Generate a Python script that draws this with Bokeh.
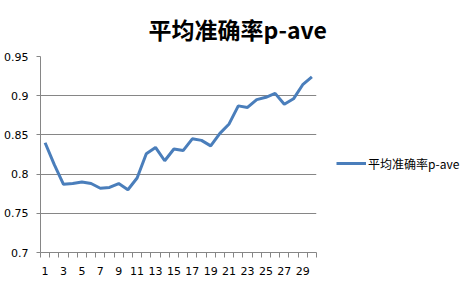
from bokeh.plotting import figure
from bokeh.models import (FixedTicker, CustomJSTickFormatter, Legend, LegendItem, Title, Range1d)
from bokeh.embed import file_html
from bokeh.resources import INLINE

title_text = "平均准确率p-ave"
series_name = "平均准确率p-ave"
categories = list(range(1, 31))
p_ave = [0.840, 0.812, 0.787, 0.788, 0.790, 0.788, 0.782, 0.783, 0.788, 0.780,
         0.795, 0.826, 0.834, 0.817, 0.832, 0.830, 0.845, 0.843, 0.836, 0.852,
         0.864, 0.887, 0.885, 0.895, 0.898, 0.903, 0.889, 0.896, 0.914, 0.924]
y_ticks = [0.7, 0.75, 0.8, 0.85, 0.9, 0.95]

p = figure(frame_width=276, frame_height=196, output_backend="svg", toolbar_location=None,
           x_range=Range1d(categories[0] - 0.5, categories[-1] + 0.5),
           y_range=Range1d(y_ticks[0], y_ticks[-1]),
           min_border_left=40, min_border_right=154, min_border_top=56, min_border_bottom=32)
p.outline_line_color = None
p.background_fill_color = "white"

r = p.line(categories, p_ave, line_color="#4A7EBB", line_width=3)

# x axis
xa = p.xaxis[0]
xa.ticker = FixedTicker(ticks=categories[::2],
                        minor_ticks=[c - 0.5 for c in categories] + [categories[-1] + 0.5])
xa.major_tick_line_color = None
xa.minor_tick_line_color = "#868686"
xa.minor_tick_in = 0
xa.minor_tick_out = 5
xa.axis_line_color = "#868686"
xa.major_label_text_font = "DejaVu Sans"
xa.major_label_text_font_size = "11px"
xa.major_label_text_color = "black"
xa.major_label_standoff = 8

ya = p.yaxis[0]
ya.ticker = FixedTicker(ticks=y_ticks)
ya.formatter = CustomJSTickFormatter(code="return tick.toFixed(2).replace(/0$/, '');")
ya.major_tick_line_color = "#868686"
ya.major_tick_in = 0
ya.major_tick_out = 4
ya.minor_tick_line_color = None
ya.axis_line_color = "#868686"
ya.major_label_text_font = "DejaVu Sans"
ya.major_label_text_font_size = "11px"
ya.major_label_text_color = "black"
ya.major_label_standoff = 8

p.xgrid.grid_line_color = None
p.ygrid.grid_line_color = "#868686"
p.ygrid.ticker = FixedTicker(ticks=y_ticks)

t = Title(text=title_text, align="left", offset=108, vertical_align="top",
          text_font="Noto Sans CJK SC", text_font_size="23px", text_font_style="bold",
          text_color="black", standoff=18, text_line_height=1.0)
p.title = t

legend = Legend(items=[LegendItem(label=series_name, renderers=[r])],
                location=(20, 79), border_line_color=None, background_fill_alpha=0,
                label_text_font="Noto Sans CJK SC", label_text_font_size="12px",
                label_text_color="black", glyph_width=30, label_standoff=2, padding=0,
                margin=0)
p.add_layout(legend, "right")

open("out.html", "w").write(file_html(p, INLINE))
